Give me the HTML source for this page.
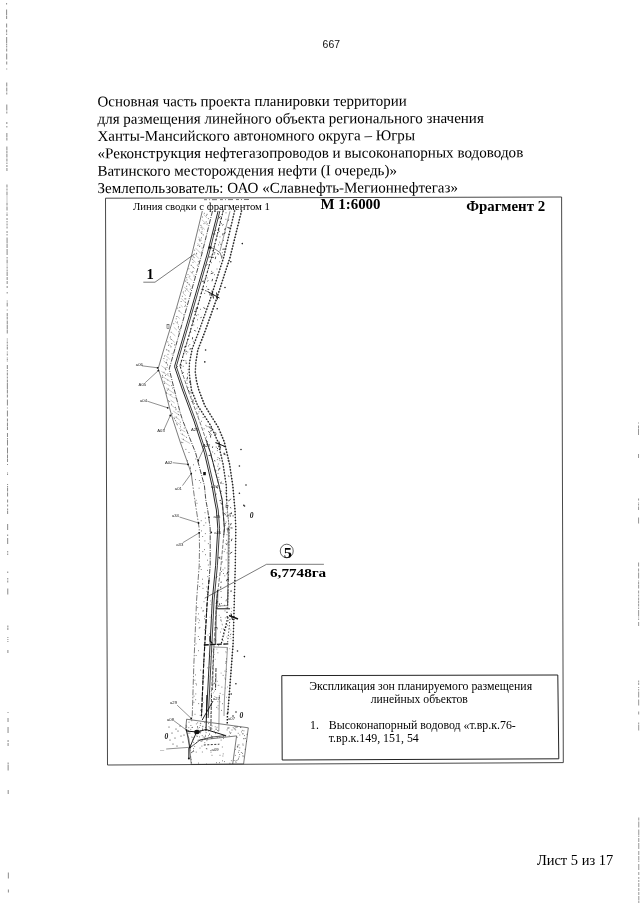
<!DOCTYPE html>
<html lang="ru"><head><meta charset="utf-8"><title>Лист 5 из 17</title>
<style>
html,body{margin:0;padding:0;background:#fff;}
body{width:640px;height:905px;overflow:hidden;position:relative;font-family:"Liberation Serif",serif;}
svg{position:absolute;left:0;top:0;display:block;filter:grayscale(1);}
text{white-space:pre;}
</style></head><body>
<svg width="640" height="905" viewBox="0 0 640 905">
<g font-family='"Liberation Sans", sans-serif'>
<text x="322.6" y="47.9" font-size="10.6" textLength="17.4" lengthAdjust="spacingAndGlyphs" fill="#111" text-anchor="start">667</text>
</g>
<g font-family='"Liberation Serif", serif'>
<text x="97.5" y="106.4" font-size="15" textLength="309.3" lengthAdjust="spacingAndGlyphs" fill="#000" text-anchor="start" transform="rotate(-0.12 97.5 106.4)">Основная часть проекта планировки территории</text>
<text x="97.5" y="123.8" font-size="15" textLength="386.3" lengthAdjust="spacingAndGlyphs" fill="#000" text-anchor="start" transform="rotate(-0.12 97.5 123.8)">для размещения линейного объекта регионального значения</text>
<text x="97.5" y="140.9" font-size="15" textLength="317.5" lengthAdjust="spacingAndGlyphs" fill="#000" text-anchor="start" transform="rotate(-0.12 97.5 140.9)">Ханты-Мансийского автономного округа – Югры</text>
<text x="97.5" y="158.2" font-size="15" textLength="425.8" lengthAdjust="spacingAndGlyphs" fill="#000" text-anchor="start" transform="rotate(-0.12 97.5 158.2)">«Реконструкция нефтегазопроводов и высоконапорных водоводов</text>
<text x="97.5" y="175.8" font-size="15" textLength="299.5" lengthAdjust="spacingAndGlyphs" fill="#000" text-anchor="start" transform="rotate(-0.12 97.5 175.8)">Ватинского месторождения нефти (I очередь)»</text>
<text x="97.5" y="193.1" font-size="15" textLength="360.5" lengthAdjust="spacingAndGlyphs" fill="#000" text-anchor="start" transform="rotate(-0.12 97.5 193.1)">Землепользователь: ОАО «Славнефть-Мегионнефтегаз»</text>
<polygon points="105.5,198.2 561.6,197.0 563.3,762.6 107.5,765.0" fill="none" stroke="#333" stroke-width="0.9"/>
<g><path d="M204.3,213.3h.01M207.1,214.3h.01M206.4,215.3h.01M202.5,217.0h.01M208.3,218.6h.01M206.2,221.9h.01M204.0,223.6h.01M207.3,223.8h.01M200.9,225.4h.01M201.1,227.6h.01M202.2,229.1h.01M199.3,230.0h.01M201.9,231.8h.01M201.7,233.4h.01M203.3,234.9h.01M201.5,237.8h.01M199.2,239.6h.01M199.9,240.7h.01M200.0,240.9h.01M201.8,243.5h.01M197.9,245.4h.01M199.6,246.5h.01M202.1,248.1h.01M194.7,250.2h.01M201.7,252.0h.01M196.5,253.3h.01M196.7,253.9h.01M193.1,256.7h.01M194.1,257.6h.01M192.3,259.3h.01M198.3,261.6h.01M193.0,262.4h.01M197.3,265.1h.01M191.2,265.3h.01M193.3,267.6h.01M188.9,268.8h.01M193.0,271.5h.01M192.1,272.4h.01M188.0,274.6h.01M194.1,276.0h.01M189.8,276.2h.01M186.7,277.7h.01M187.0,279.9h.01M185.3,281.1h.01M187.7,282.5h.01M189.3,284.3h.01M186.7,286.3h.01M190.3,289.2h.01M186.9,289.0h.01M185.3,290.9h.01M183.3,292.0h.01M182.3,296.3h.01M184.9,298.8h.01M185.8,298.9h.01M181.1,301.5h.01M185.6,302.3h.01M185.4,305.2h.01M184.9,306.4h.01M179.8,307.4h.01M177.7,308.1h.01M179.1,311.0h.01M183.7,314.8h.01M176.8,316.5h.01M176.2,318.8h.01M177.6,322.1h.01M173.8,323.7h.01M178.4,326.6h.01M178.3,327.9h.01M179.4,329.6h.01M178.7,331.8h.01M171.2,332.3h.01M170.4,336.9h.01M171.2,339.5h.01M167.8,341.9h.01M171.8,343.5h.01M174.4,344.9h.01M168.4,345.4h.01M170.9,346.9h.01M166.4,349.8h.01M168.8,350.8h.01M172.1,353.8h.01M168.0,354.4h.01M164.5,356.0h.01M163.9,358.5h.01M167.0,359.9h.01M166.5,362.4h.01M166.1,362.9h.01M167.5,365.0h.01M167.0,367.4h.01M165.2,368.2h.01M165.5,369.7h.01M164.0,372.3h.01M167.9,373.9h.01M165.6,375.5h.01M162.5,375.4h.01M162.4,377.3h.01M167.8,380.0h.01M164.1,381.4h.01M164.5,383.4h.01M171.7,385.6h.01M172.4,388.1h.01M168.6,389.0h.01M167.3,390.2h.01M166.4,392.3h.01M166.8,393.5h.01M170.9,394.5h.01M175.1,397.8h.01M168.6,400.8h.01M169.7,401.6h.01M171.5,404.3h.01M175.6,407.4h.01M175.9,409.7h.01M178.1,411.7h.01M172.3,413.7h.01M178.5,414.5h.01M176.7,417.1h.01M174.0,417.9h.01M174.4,418.7h.01M175.5,420.6h.01M180.3,422.2h.01M176.4,423.9h.01M177.5,424.8h.01M180.5,426.8h.01M184.2,428.2h.01M180.7,430.6h.01M182.4,434.2h.01M186.4,437.4h.01M183.4,439.3h.01M181.4,442.3h.01M182.8,442.6h.01M185.9,449.4h.01M189.0,452.5h.01M195.8,459.0h.01M187.6,460.8h.01M193.6,464.8h.01M190.6,467.2h.01M190.6,468.6h.01M195.7,470.7h.01M195.6,479.6h.01M199.3,480.5h.01M200.7,482.6h.01M199.1,488.2h.01M196.1,500.3h.01M197.0,503.3h.01M205.0,512.7h.01M205.3,518.1h.01M201.2,520.7h.01M205.8,522.8h.01M203.9,525.4h.01M201.6,530.9h.01M205.3,533.6h.01M202.7,536.5h.01M204.9,540.9h.01M208.3,543.6h.01M204.5,549.6h.01M202.8,551.6h.01M205.5,554.7h.01M207.6,560.2h.01M208.3,565.0h.01M200.2,566.6h.01M201.2,569.5h.01M207.4,570.4h.01M207.8,576.6h.01M202.6,579.2h.01M202.7,583.8h.01M199.7,586.5h.01M206.9,586.9h.01M203.0,588.4h.01M206.9,591.4h.01M204.0,601.7h.01M197.8,607.5h.01M201.3,607.9h.01M203.6,610.8h.01M202.8,611.0h.01M198.4,613.9h.01M204.6,616.2h.01M204.5,618.8h.01M198.0,618.8h.01M199.6,620.2h.01M198.8,622.7h.01M199.9,627.4h.01M199.2,628.1h.01M204.4,629.9h.01M198.3,636.5h.01M199.6,639.5h.01M196.0,643.8h.01M198.6,650.7h.01M196.1,655.5h.01M200.7,670.1h.01M195.5,674.9h.01M194.9,680.2h.01M196.0,683.6h.01M196.5,684.9h.01M195.8,693.9h.01M194.0,696.2h.01M195.7,699.7h.01M193.9,702.3h.01M198.7,703.6h.01M200.5,710.2h.01M195.0,714.3h.01M200.2,715.4h.01M226.0,212.8h.01M225.9,219.3h.01M221.5,223.6h.01M229.1,227.6h.01M220.0,236.9h.01M223.5,240.4h.01M219.7,242.2h.01M218.6,244.9h.01M224.3,249.2h.01M222.3,252.7h.01M214.1,254.3h.01M222.2,256.1h.01M221.4,258.1h.01M219.8,261.8h.01M211.4,262.7h.01M217.0,269.0h.01M211.7,271.4h.01M214.6,274.7h.01M207.1,277.9h.01M206.6,286.6h.01M204.7,293.4h.01M210.0,295.2h.01M200.5,309.3h.01M198.1,314.7h.01M196.4,315.6h.01M197.6,319.8h.01M193.8,324.9h.01M197.4,327.9h.01M194.6,330.5h.01M193.3,341.4h.01M189.8,344.6h.01M188.4,345.9h.01M191.0,348.9h.01M187.8,352.0h.01M186.3,353.9h.01M185.9,360.8h.01M183.2,366.3h.01M188.1,369.6h.01M187.6,373.9h.01M187.5,377.2h.01M187.2,378.8h.01M186.9,380.2h.01M187.1,383.4h.01M188.0,387.5h.01M190.0,391.8h.01M191.3,396.2h.01M193.0,399.6h.01M193.2,402.0h.01M194.3,403.5h.01M196.9,408.2h.01M199.0,411.8h.01M197.9,413.6h.01M198.1,416.2h.01M203.1,417.5h.01M201.6,421.3h.01M205.9,425.4h.01M207.0,426.6h.01M204.1,428.8h.01M211.3,430.7h.01M211.3,434.7h.01M206.5,437.0h.01M207.5,441.6h.01M216.1,443.2h.01M216.2,447.0h.01M217.3,450.6h.01M212.7,452.0h.01M214.7,453.7h.01M218.0,457.6h.01M217.3,459.6h.01M220.0,460.6h.01M218.3,464.0h.01M217.8,466.2h.01M220.0,468.2h.01M216.0,470.8h.01M218.0,473.4h.01M218.8,477.4h.01M219.0,479.7h.01M221.4,482.1h.01M223.0,483.6h.01M221.3,491.3h.01M225.3,492.9h.01M225.9,505.1h.01M226.0,512.9h.01M225.1,514.8h.01M226.7,516.1h.01M226.1,522.0h.01M225.6,523.5h.01M225.2,525.2h.01M227.9,528.5h.01M227.5,531.9h.01M227.0,534.7h.01M226.6,540.4h.01M228.0,542.2h.01M227.2,543.7h.01M225.2,549.3h.01M224.2,551.6h.01M227.1,552.9h.01M226.1,559.9h.01M222.6,561.9h.01M224.9,568.0h.01M223.0,569.8h.01M221.4,571.5h.01M223.4,573.5h.01M224.8,575.8h.01M221.2,581.9h.01M221.0,582.5h.01M221.0,591.5h.01M221.3,597.4h.01M226.4,599.9h.01M226.0,600.8h.01M221.3,603.5h.01M224.7,605.3h.01M226.2,607.9h.01M225.0,610.9h.01M220.8,617.4h.01M228.3,620.7h.01M227.6,625.2h.01M226.1,626.9h.01M217.4,628.8h.01M220.4,632.1h.01M223.0,640.7h.01M218.7,645.7h.01M227.0,649.0h.01M217.9,652.8h.01M226.4,658.9h.01M226.6,661.8h.01M225.0,671.1h.01M223.1,675.4h.01M216.1,677.8h.01M225.3,679.2h.01M214.5,683.1h.01M214.8,683.6h.01M221.9,687.1h.01M220.1,693.4h.01M222.5,703.7h.01M211.3,706.7h.01M221.6,710.4h.01" stroke="#444" stroke-width="0.85" stroke-linecap="round" fill="none"/>
<path d="M203.5,214.4L207.0,217.8M201.9,219.7L207.3,225.0M200.7,225.5L204.8,229.6M199.7,231.4L202.7,234.5M198.1,236.8L202.0,240.7M197.4,243.1L200.8,246.5M195.5,248.1L200.9,253.5M194.4,254.0L199.1,258.8M192.9,259.7L195.6,262.5M191.0,265.0L194.9,269.0M190.0,271.2L193.1,274.4M188.3,276.7L192.0,280.5M186.0,281.5L191.1,286.9M184.2,286.9L189.5,292.4M182.7,292.7L185.9,296.0M181.1,298.3L186.1,303.4M180.7,305.1L182.8,307.2M178.3,309.9L182.3,314.0M177.1,316.0L179.9,318.8M174.9,321.1L178.7,324.8M173.8,327.2L176.9,330.2M172.2,333.0L175.3,335.9M169.4,337.5L174.8,342.5M168.1,343.5L171.6,346.7M166.7,349.4L169.9,352.2M165.3,355.2L169.9,359.3M163.6,360.8L168.1,364.7M161.4,365.7L166.8,369.8M161.4,371.4L169.7,376.5M162.4,376.5L171.1,382.1M164.0,382.0L170.1,386.1M166.3,388.0L174.0,393.4M168.4,394.0L173.6,397.7M170.6,400.1L174.6,403.0M171.1,405.1L177.0,409.3M173.3,411.1L179.4,415.4M174.7,416.6L179.8,420.0M175.7,421.7L181.2,425.2M178.8,428.1L185.3,432.0M180.5,433.5L185.4,436.4M181.5,438.7L190.1,443.5" stroke="#777" stroke-width="0.4" fill="none"/>
<polyline points="202.3,211.0 192.0,253.8 176.6,307.5 163.6,350.0 158.2,368.5 165.0,390.0 169.5,407.8 173.0,420.0 180.5,443.0 188.0,463.8 191.3,473.6 192.1,480.0" fill="none" stroke="#222" stroke-width="0.6"/>
<polyline points="192.1,480.0 194.8,500.0 199.2,528.4 199.5,548.0 199.2,565.6 196.6,600.0 193.8,665.6 192.2,718.0" fill="none" stroke="#222" stroke-width="0.6" stroke-dasharray="6 1.5 1.5 1.5"/>
<polyline points="212.5,211.0 201.6,255.0 186.0,310.0 169.2,369.0 174.4,390.0 180.0,412.0 182.5,420.0 195.6,452.8 204.4,485.6 205.8,500.0 207.7,510.0 210.2,528.4 210.2,565.6 207.0,605.0 203.6,665.6 201.4,718.0" fill="none" stroke="#111" stroke-width="0.75" stroke-dasharray="5 1.2 1 1.2"/>
<polyline points="218.1,211.0 206.9,255.0 191.0,310.0 174.5,366.5 182.5,390.0 194.0,421.0 204.4,452.8 212.0,485.6 214.5,500.0 216.4,510.0 217.8,528.4 215.6,565.6 212.3,600.0 209.0,665.6 206.4,718.0" fill="none" stroke="#111" stroke-width="0.9"/>
<polyline points="219.9,211.0 208.7,255.0 192.8,310.0 176.3,366.5 184.3,390.0 195.8,421.0 206.2,452.8 213.8,485.6 216.3,500.0 218.2,510.0 219.6,528.4 217.4,565.6 214.1,600.0 210.8,665.6 208.2,718.0" fill="none" stroke="#111" stroke-width="0.8"/>
<polyline points="223.1,211.0 212.2,255.0 196.5,310.0 180.0,366.0 181.3,370.0" fill="none" stroke="#111" stroke-width="1.3" stroke-dasharray="0.1 3.6" stroke-linecap="round"/>
<polyline points="223.1,211.0 212.2,255.0 196.5,310.0 180.0,366.0 188.0,390.0 199.5,421.0 210.5,452.8 219.0,485.6 222.2,500.0 224.4,528.4 221.0,565.6 216.7,600.0 213.4,654.7 211.3,696.0" fill="none" stroke="#222" stroke-width="0.6" stroke-dasharray="4 1.5"/>
<polyline points="206.1,440.0 210.5,452.8 219.0,485.6 222.2,500.0 224.4,528.4 223.8,535.0" fill="none" stroke="#111" stroke-width="0.8"/>
<polyline points="209.0,580.0 207.0,605.0 203.6,665.6 201.5,716.0" fill="none" stroke="#111" stroke-width="1.1" stroke-dasharray="4 1.6"/>
<polyline points="234.6,211.0 223.6,257.5 210.0,300.0 199.3,330.0 192.2,348.8 189.5,362.5 189.2,372.0 190.0,380.0 191.5,390.0 197.7,405.6 204.5,416.0 210.6,425.3 218.0,441.9 223.0,463.8 226.3,485.6 226.6,500.0" fill="none" stroke="#111" stroke-width="1.5" stroke-dasharray="0.1 2.9" stroke-linecap="round"/>
<polyline points="226.6,500.0 227.4,510.0 229.2,528.4 228.8,565.6 227.7,608.0" fill="none" stroke="#222" stroke-width="1.1" stroke-dasharray="0.1 2.9" stroke-linecap="round"/>
<polyline points="241.5,211.0 230.0,257.5 216.2,300.0 205.5,330.0 197.8,350.0 195.8,362.5 195.3,372.0 196.3,380.0 198.8,390.0 204.8,405.6 211.2,416.0 218.4,427.5 224.3,441.9 229.5,463.8 232.8,485.6 235.0,510.0 235.8,528.4 235.3,565.6 234.2,605.0 233.1,643.8 229.8,687.5 227.7,713.8" fill="none" stroke="#111" stroke-width="1.6" stroke-dasharray="0.1 2.9" stroke-linecap="round"/>
<polyline points="234.6,211.0 223.6,257.5 210.0,300.0 199.3,330.0 192.2,348.8 189.5,362.5 189.2,372.0 190.0,380.0 191.5,390.0 197.7,405.6 204.5,416.0 210.6,425.3 218.0,441.9 223.0,463.8 226.3,485.6 226.6,500.0 227.4,510.0 229.2,528.4 228.8,565.6 227.7,608.0" fill="none" stroke="#555" stroke-width="0.35"/>
<polyline points="241.5,211.0 230.0,257.5 216.2,300.0 205.5,330.0 197.8,350.0 195.8,362.5 195.3,372.0 196.3,380.0 198.8,390.0 204.8,405.6 211.2,416.0 218.4,427.5 224.3,441.9 229.5,463.8 232.8,485.6 235.0,510.0 235.8,528.4 235.3,565.6 234.2,605.0 233.1,643.8 229.8,687.5 227.7,713.8" fill="none" stroke="#555" stroke-width="0.35"/>
<polyline points="230.0,211.2 220.0,251.0" fill="none" stroke="#333" stroke-width="0.5"/>
<polyline points="228.5,528.0 228.0,560.0 227.5,605.6" fill="none" stroke="#333" stroke-width="0.5"/>
<path d="M210.5,600.9h.01M212.0,602.6h.01M211.0,604.5h.01M220.1,606.3h.01M211.7,608.0h.01M231.2,608.2h.01M231.6,611.6h.01M211.6,613.3h.01M211.8,612.8h.01M216.6,615.6h.01M219.2,615.3h.01M210.0,617.2h.01M225.3,617.8h.01M220.9,619.5h.01M212.1,619.4h.01M222.4,624.9h.01M222.1,624.2h.01M226.0,627.4h.01M212.3,626.8h.01M221.8,628.8h.01M229.7,628.4h.01M225.7,630.8h.01M230.8,630.1h.01M209.7,633.6h.01M208.0,635.1h.01M224.0,635.0h.01M226.9,637.0h.01M230.0,636.4h.01M215.4,639.5h.01M230.9,638.7h.01M212.2,640.8h.01M216.0,640.8h.01M214.2,642.5h.01M224.4,643.9h.01M210.6,645.6h.01M210.4,644.3h.01M216.9,649.1h.01M229.8,648.7h.01M225.9,651.6h.01M212.2,651.1h.01M226.1,652.7h.01M214.1,654.5h.01M209.1,654.0h.01M210.5,656.6h.01M215.2,659.3h.01M213.4,659.9h.01M225.4,661.8h.01M225.4,663.3h.01M204.0,665.9h.01M210.2,664.2h.01M209.6,667.6h.01M207.5,667.8h.01M226.5,669.2h.01M226.4,671.6h.01M221.1,673.1h.01M225.8,675.1h.01M209.1,676.3h.01M204.7,676.9h.01M215.6,679.0h.01M225.0,678.0h.01M217.3,681.3h.01M213.5,683.9h.01M218.9,685.3h.01M218.2,685.4h.01M227.5,687.0h.01M225.2,688.1h.01M211.0,691.7h.01M214.5,691.1h.01M213.3,692.8h.01M223.0,694.6h.01M214.8,696.5h.01M226.5,697.3h.01M210.1,698.6h.01M217.8,701.6h.01M220.0,701.8h.01M203.3,702.6h.01M206.7,703.8h.01M218.1,705.6h.01M217.0,707.3h.01M216.5,707.4h.01M218.1,708.9h.01M206.1,710.1h.01M210.6,713.6h.01M207.8,714.6h.01" stroke="#777" stroke-width="0.8" stroke-linecap="round" fill="none"/>
<polyline points="204.0,199.7 252.0,199.5" fill="none" stroke="#333" stroke-width="0.7" stroke-dasharray="3 2 1 2 5 3"/>
<path d="M225.4,228.2l-0.8,1.8M225.7,232.6l-1.7,1.1M212.0,257.4l1.8,0.0M207.6,264.3l-1.3,0.9M215.3,234.0l-2.4,0.0M207.5,289.3l1.7,0.2M210.5,256.8l-1.8,0.3M227.3,227.3l2.5,1.0M217.5,253.0l0.9,1.7M216.2,230.1l-1.4,0.6M204.6,281.1l-2.6,0.3M212.6,278.9l-0.6,2.3M223.5,224.5l-1.3,0.8M209.7,293.4l0.5,1.7M215.3,252.8l-1.8,0.0M220.5,216.3l-1.8,2.2M215.7,256.7l-0.4,2.4M223.1,233.1l-0.4,2.2M218.1,229.5l1.2,2.4M220.4,243.8l0.8,1.1M229.1,219.6l-1.4,1.2M213.4,272.8l-2.6,0.9M224.5,249.0l-2.1,0.3M205.6,290.0l0.6,1.5M201.6,289.3l2.4,0.5M208.4,280.6l-1.1,0.6M190.4,331.0l0.4,1.4M198.1,308.3l-2.6,0.9M187.5,389.5l1.9,1.9M185.6,363.1l1.5,0.1M193.5,400.6l-2.0,0.8M186.9,351.1l-1.5,0.8M180.7,364.1l-0.9,0.8M189.0,382.2l2.1,0.2M187.5,377.3l-0.4,1.6M190.9,348.7l-1.4,0.4M194.2,311.4l1.9,0.2M201.4,316.9l-0.7,1.2M181.1,364.6l0.0,1.6M192.7,319.9l0.9,2.2M177.7,366.0l-1.6,2.0M190.5,392.9l1.9,0.0M203.4,307.6l2.0,1.2M195.0,330.3l0.7,1.1M185.6,346.7l-1.6,0.5M184.4,360.4l-1.3,0.2M183.6,372.1l-1.8,2.0M192.6,337.2l-0.2,2.1M216.1,432.9l-1.8,0.1M227.6,460.7l1.2,0.4M216.5,434.0l-1.4,1.3M216.2,493.7l-0.8,1.7M220.6,482.4l0.5,1.5M208.2,431.3l1.7,1.6M230.1,515.1l0.2,1.6M219.5,468.0l-1.1,2.5M210.5,435.3l0.1,2.3M231.3,523.1l-0.9,2.2M230.7,498.8l-1.3,1.9M224.3,452.7l0.8,2.0M233.7,515.9l-1.2,0.0M214.5,460.1l0.5,1.3M216.0,486.3l1.6,2.2M225.4,506.9l2.6,0.9M220.8,502.7l1.1,1.9M221.2,500.3l-1.7,0.3M223.2,453.7l2.0,1.1M216.9,447.8l1.2,1.4M227.1,528.5l0.4,2.1M211.1,456.6l0.6,1.5M223.6,446.5l2.5,0.3M230.5,527.9l2.0,0.1M211.1,430.3l-0.9,1.3M208.5,426.8l1.6,0.5M228.4,475.5l0.6,1.3M231.4,512.3l-0.1,1.3M212.7,446.4l-0.3,1.5M231.8,513.5l-2.5,0.6M209.7,427.9l2.6,0.7M230.1,507.4l1.1,0.7M228.3,514.9l-0.7,1.8M224.2,513.2l1.2,1.3M220.1,458.5l-1.2,0.4M210.4,433.4l-0.8,1.3M208.6,455.4l2.0,0.2M227.5,500.2l1.2,0.7M228.1,527.5l0.7,2.2M226.2,505.3l2.4,0.6M219.2,557.4l0.9,1.8M218.0,601.0l-1.2,1.6M232.2,552.0l-2.2,1.5M218.5,606.3l-2.0,1.7M232.0,591.0l-1.8,0.2M231.2,633.9l-1.0,0.7M227.7,572.0l-0.8,2.3M217.7,602.9l-2.0,0.4M217.4,627.6l-2.1,0.0M228.0,616.4l-1.7,0.6M225.6,543.7l1.7,1.1M220.6,620.6l1.1,0.5M226.7,579.4l2.3,0.2M220.3,557.1l-2.0,0.5M223.2,629.0l1.5,0.6M227.8,579.5l-1.8,1.6M219.3,603.3l0.4,1.8M220.8,586.4l-0.2,1.9M232.0,538.7l-0.7,2.4M227.9,612.3l-1.8,0.0M217.1,576.3l-1.1,1.9M233.4,595.5l1.3,0.9" stroke="#222" stroke-width="0.8" fill="none"/>
<polyline points="218.0,590.0 217.5,606.0 227.5,605.6 228.0,590.0" fill="none" stroke="#333" stroke-width="0.5"/>
<polyline points="216.2,608.8 230.0,608.8" fill="none" stroke="#111" stroke-width="1.0"/>
<polyline points="217.5,590.0 216.2,608.8 215.6,645.0" fill="none" stroke="#111" stroke-width="0.8"/>
<polyline points="229.0,615.5 238.0,619.0" fill="none" stroke="#111" stroke-width="1.4"/>
<polyline points="231.0,613.5 232.5,620.0" fill="none" stroke="#111" stroke-width="1.0"/>
<polyline points="228.0,617.0 221.2,643.8" fill="none" stroke="#111" stroke-width="1.2" stroke-dasharray="1.6 1.6"/>
<polyline points="230.0,618.8 227.5,643.8" fill="none" stroke="#222" stroke-width="0.9" stroke-dasharray="1.2 2"/>
<polyline points="203.8,645.0 228.8,643.8" fill="none" stroke="#111" stroke-width="1.3" stroke-dasharray="5 1.5"/>
<polyline points="210.0,636.0 210.0,641.0 212.5,643.5" fill="none" stroke="#111" stroke-width="1.2"/>
<polyline points="213.8,647.0 227.5,647.5 224.4,700.0 224.0,716.0" fill="none" stroke="#333" stroke-width="0.5"/>
<polyline points="213.8,647.5 212.5,690.0" fill="none" stroke="#222" stroke-width="0.7" stroke-dasharray="3 1"/>
<polyline points="216.0,668.0 215.5,690.0" fill="none" stroke="#222" stroke-width="0.9" stroke-dasharray="4 1.2"/>
<path d="M188.8,727.7h.01M230.3,733.5h.01M200.8,723.6h.01M236.0,727.2h.01M193.4,748.6h.01M211.9,728.8h.01M206.1,732.6h.01M190.8,745.8h.01M223.5,736.1h.01M246.4,741.3h.01M240.5,727.4h.01M243.1,756.6h.01M223.6,738.4h.01M237.7,746.4h.01M196.2,752.1h.01M202.2,739.5h.01M196.3,736.0h.01M229.9,763.3h.01M235.8,761.1h.01M222.3,747.0h.01M241.3,752.5h.01M243.9,730.8h.01M227.6,728.1h.01M202.7,726.8h.01M202.6,728.8h.01M186.2,725.3h.01M200.2,725.5h.01M228.8,728.2h.01M236.0,762.4h.01M239.8,735.0h.01M236.2,727.0h.01M216.5,762.7h.01M239.0,744.8h.01M202.2,740.8h.01M215.5,733.6h.01M224.5,761.6h.01M205.6,735.3h.01M191.7,752.6h.01M217.7,730.5h.01M236.9,760.5h.01M212.0,755.3h.01M210.8,750.5h.01M228.9,727.7h.01M191.8,720.7h.01M197.5,726.6h.01M211.0,752.2h.01M206.9,740.6h.01M197.5,736.3h.01M223.2,753.9h.01M215.2,726.8h.01M245.5,738.4h.01M223.3,735.8h.01M230.9,732.6h.01M242.4,753.4h.01M237.3,746.8h.01M214.2,731.1h.01M232.0,730.0h.01M233.2,727.7h.01M188.9,731.5h.01M190.5,750.1h.01M225.4,736.2h.01M234.2,728.8h.01M243.9,738.7h.01M191.2,759.3h.01M190.3,745.0h.01M229.4,732.0h.01M192.5,751.6h.01M242.3,730.4h.01M208.4,735.7h.01M209.8,728.0h.01M241.4,731.9h.01M220.0,755.3h.01M190.4,748.2h.01M212.0,738.3h.01M209.0,726.7h.01M188.8,733.2h.01M222.4,760.8h.01M192.0,727.5h.01M199.3,727.5h.01M215.9,729.2h.01M227.1,729.9h.01M195.0,733.8h.01M239.2,756.8h.01M202.3,752.0h.01M190.8,757.0h.01M238.2,733.3h.01M189.9,733.1h.01M191.8,737.1h.01M221.1,740.1h.01M190.9,725.5h.01M190.8,729.4h.01M192.9,737.7h.01M243.9,738.6h.01M209.7,734.2h.01M235.5,749.4h.01M206.9,748.9h.01M237.8,747.1h.01M234.1,760.5h.01M197.7,722.8h.01M244.5,735.6h.01M242.9,744.0h.01M245.1,749.3h.01M222.9,756.0h.01M218.3,731.1h.01M206.3,748.5h.01M238.6,758.3h.01M242.9,733.8h.01M193.0,739.6h.01M204.6,737.2h.01M219.4,762.7h.01M200.6,732.8h.01M237.2,737.3h.01M191.8,752.4h.01M197.6,727.3h.01M200.7,731.8h.01M217.0,727.3h.01M239.1,750.5h.01M234.9,726.6h.01M235.3,755.4h.01M216.3,729.2h.01M240.9,727.3h.01M243.1,745.2h.01M235.7,729.9h.01M201.9,746.1h.01M237.5,726.9h.01M211.3,735.8h.01M194.1,737.1h.01M206.6,764.1h.01M235.0,728.9h.01M198.0,728.9h.01M229.2,735.7h.01M186.2,727.4h.01M202.2,735.6h.01M231.3,760.7h.01M205.6,736.7h.01M210.2,730.0h.01M194.7,746.4h.01M205.0,738.5h.01M193.7,751.5h.01M199.5,732.4h.01M200.0,748.1h.01M212.4,737.1h.01M209.5,734.1h.01M202.9,726.3h.01M200.3,723.3h.01M212.0,725.9h.01M205.8,730.7h.01M211.3,738.1h.01M238.1,759.5h.01M193.7,742.3h.01M219.8,737.1h.01M247.0,734.3h.01M200.2,730.5h.01M196.4,742.6h.01M189.0,722.2h.01M188.4,730.7h.01M238.0,745.1h.01M193.6,750.6h.01M203.2,737.0h.01M201.1,741.5h.01M202.5,729.5h.01M208.4,730.9h.01M204.8,722.6h.01M238.4,752.3h.01M186.7,726.8h.01M204.8,742.7h.01M198.4,763.1h.01M191.5,762.7h.01M199.5,736.9h.01M225.8,735.3h.01M242.9,733.8h.01M196.3,723.9h.01M207.4,738.8h.01M217.2,737.6h.01M205.6,727.4h.01M239.8,747.9h.01M211.8,736.7h.01M239.7,754.5h.01M243.0,755.7h.01M208.4,723.6h.01M192.5,727.4h.01" stroke="#444" stroke-width="0.8" stroke-linecap="round" fill="none"/>
<polygon points="186.6,719.2 248.3,727.8 243.6,763.9 191.25,764.4 189.7,748 188.9,738.75 185.8,728.6" fill="none" stroke="#222" stroke-width="0.6"/>
<polyline points="197.5,740.3 236.6,735.9 232.7,764.0" fill="none" stroke="#222" stroke-width="0.6"/>
<ellipse cx="196.9" cy="732" rx="2.7" ry="2.2" fill="#111"/>
<polyline points="186.6,731.0 196.7,732.0 206.0,729.5 225.6,735.6" fill="none" stroke="#111" stroke-width="1.0"/>
<polyline points="196.7,732.0 192.5,741.0 189.7,748.0" fill="none" stroke="#111" stroke-width="0.9"/>
<polyline points="186.6,731.0 188.5,741.0 189.7,748.0" fill="none" stroke="#111" stroke-width="0.7"/>
<polyline points="189.7,748.0 200.0,740.0 212.0,737.0 225.6,735.6" fill="none" stroke="#111" stroke-width="0.7"/>
<polyline points="188.9,748.0 188.9,758.3" fill="none" stroke="#111" stroke-width="1.0"/>
<circle cx="188.9" cy="758.6" r="1" fill="#111"/>
<polyline points="213.0,701.0 202.2,720.0" fill="none" stroke="#111" stroke-width="0.9"/>
<polyline points="206.9,695.0 206.0,731.0" fill="none" stroke="#111" stroke-width="1.0"/>
<polyline points="211.5,695.0 210.8,731.0" fill="none" stroke="#111" stroke-width="0.8" stroke-dasharray="3 1"/>
<polyline points="219.4,695.0 218.8,731.0" fill="none" stroke="#333" stroke-width="0.5"/>
<polyline points="203.8,745.0 219.4,744.2" fill="none" stroke="#222" stroke-width="0.9" stroke-dasharray="2 1.5"/>
<polyline points="227.5,713.0 227.2,725.0" fill="none" stroke="#111" stroke-width="1.4" stroke-dasharray="1.5 1.5"/>
<path d="M169.0,727.0h.01M172.0,733.0h.01M175.0,738.0h.01M178.0,731.0h.01M181.0,736.0h.01M173.0,744.0h.01M177.0,746.0h.01M183.0,742.0h.01M170.0,740.0h.01M180.0,726.0h.01M184.0,735.0h.01M176.0,729.0h.01" stroke="#222" stroke-width="1.1" stroke-linecap="round" fill="none"/>
<path d="M242.3,243.6h.01M230.8,261.8h.01M225.0,287.5h.01M217.2,308.8h.01M205.6,350.0h.01M204.8,361.9h.01M241.0,449.5h.01M239.4,466.0h.01M246.0,485.0h.01M239.4,493.3h.01M243.8,505.3h.01M244.5,506.0h.01M237.5,651.0h.01M244.4,656.6h.01M235.9,683.8h.01M231.2,694.0h.01M233.0,716.0h.01M236.0,712.0h.01" stroke="#222" stroke-width="1.6" stroke-linecap="round" fill="none"/>
<polyline points="207.5,291.5 219.5,298.0" fill="none" stroke="#111" stroke-width="1.0"/>
<polyline points="212.0,290.5 213.5,298.5" fill="none" stroke="#111" stroke-width="0.9"/>
<polyline points="216.5,292.5 217.5,299.5" fill="none" stroke="#111" stroke-width="0.9"/>
<ellipse cx="210" cy="247.5" rx="1.6" ry="1.3" fill="#111"/>
<polyline points="210.0,247.5 215.0,249.0 220.0,252.5 222.0,258.0" fill="none" stroke="#222" stroke-width="0.6"/>
<polyline points="215.5,442.5 225.0,446.5" fill="none" stroke="#111" stroke-width="1.0"/>
<polyline points="219.0,441.5 220.5,448.5" fill="none" stroke="#111" stroke-width="0.9"/>
<rect x="203.2" y="472" width="2.6" height="3.2" fill="#111"/>
<g font-family='"Liberation Serif", serif' font-style="italic" font-weight="bold" font-size="7.5" fill="#111">
<text x="249.8" y="517.8">0</text>
<text x="239.4" y="717.8">0</text>
<text x="164.4" y="738.6">0</text>
</g>
<g font-family='"Liberation Sans", sans-serif' font-size="4.2" fill="#222">
<text x="135.8" y="366.3">a06</text>
<text x="138.6" y="386">A05</text>
<text x="140" y="401.6">a04</text>
<text x="157.3" y="432.3">A03</text>
<text x="165" y="464.2">A02</text>
<text x="174.8" y="489.5">a01</text>
<text x="171.9" y="517.3">a34</text>
<text x="176.25" y="545.5">a33</text>
<text x="170" y="704.2">a29</text>
<text x="167" y="720.6">a08</text>
<text x="160" y="750.5">—</text>
<text x="191" y="430.5">A21</text>
<text x="203" y="446.5">A22</text>
<text x="211" y="488.2">a24</text>
<text x="213.4" y="518">a35</text>
<text x="214.2" y="534">a36</text>
<text x="228" y="720">a07</text>
<text x="211.6" y="750.6">a09</text>
<text x="213" y="700">a27</text>
</g>
<polyline points="141.9,365.8 157.6,367.8" fill="none" stroke="#222" stroke-width="0.5"/>
<circle cx="157.6" cy="367.8" r="0.9" fill="#111"/>
<polyline points="145.2,382.7 158.3,370.6" fill="none" stroke="#222" stroke-width="0.5"/>
<circle cx="158.3" cy="370.6" r="0.9" fill="#111"/>
<polyline points="147.3,401.2 167.7,407.8" fill="none" stroke="#222" stroke-width="0.5"/>
<circle cx="167.7" cy="407.8" r="0.9" fill="#111"/>
<polyline points="163.8,430.0 170.3,415.5" fill="none" stroke="#222" stroke-width="0.5"/>
<circle cx="170.3" cy="415.5" r="0.9" fill="#111"/>
<polyline points="172.7,462.7 188.0,464.4" fill="none" stroke="#222" stroke-width="0.5"/>
<circle cx="188" cy="464.4" r="0.9" fill="#111"/>
<polyline points="182.5,485.6 191.2,473.6" fill="none" stroke="#222" stroke-width="0.5"/>
<circle cx="191.25" cy="473.6" r="0.9" fill="#111"/>
<polyline points="179.5,517.0 198.6,523.0" fill="none" stroke="#222" stroke-width="0.5"/>
<circle cx="198.6" cy="523" r="0.9" fill="#111"/>
<polyline points="182.8,542.7 199.2,532.8" fill="none" stroke="#222" stroke-width="0.5"/>
<circle cx="199.2" cy="532.8" r="0.9" fill="#111"/>
<polyline points="177.2,705.2 191.2,718.4" fill="none" stroke="#222" stroke-width="0.5"/>
<circle cx="191.25" cy="718.4" r="0.9" fill="#111"/>
<polyline points="174.0,720.8 186.6,730.2" fill="none" stroke="#222" stroke-width="0.5"/>
<circle cx="186.6" cy="730.2" r="0.9" fill="#111"/>
<polyline points="166.2,749.0 189.7,747.3" fill="none" stroke="#222" stroke-width="0.5"/>
<circle cx="189.7" cy="747.3" r="0.9" fill="#111"/>
<polyline points="204.4,447.3 198.2,460.5" fill="none" stroke="#222" stroke-width="0.5"/>
<circle cx="198.25" cy="460.5" r="0.9" fill="#111"/>
<circle cx="209" cy="517.5" r="0.9" fill="#111"/>
<circle cx="211.25" cy="532.4" r="0.9" fill="#111"/>
<rect x="167" y="324.5" width="2" height="4" fill="none" stroke="#222" stroke-width="0.5"/></g>
<polygon points="281.8,675.6 557.8,675.0 558.8,758.8 282.2,760.0" fill="#fff" stroke="#222" stroke-width="1"/>
<text x="133" y="209.5" font-size="10.3" textLength="137" lengthAdjust="spacingAndGlyphs" fill="#000" text-anchor="start">Линия сводки с фрагментом 1</text>
<text x="320.5" y="209.3" font-size="14.9" font-weight="bold" textLength="60" lengthAdjust="spacingAndGlyphs" fill="#000" text-anchor="start">М 1:6000</text>
<text x="466.3" y="210.8" font-size="14.9" font-weight="bold" textLength="78.8" lengthAdjust="spacingAndGlyphs" fill="#000" text-anchor="start">Фрагмент 2</text>
<text x="309.3" y="689.5" font-size="11.8" textLength="222.8" lengthAdjust="spacingAndGlyphs" fill="#000" text-anchor="start">Экспликация зон планируемого размещения</text>
<text x="370.8" y="702.5" font-size="11.8" textLength="97" lengthAdjust="spacingAndGlyphs" fill="#000" text-anchor="start">линейных объектов</text>
<text x="310" y="728.8" font-size="11.8" fill="#000" text-anchor="start">1.</text>
<text x="328.8" y="728.8" font-size="11.8" textLength="187" lengthAdjust="spacingAndGlyphs" fill="#000" text-anchor="start">Высоконапорный водовод «т.вр.к.76-</text>
<text x="328.8" y="741.8" font-size="11.8" textLength="90" lengthAdjust="spacingAndGlyphs" fill="#000" text-anchor="start">т.вр.к.149, 151, 54</text>
<text x="536.9" y="864.7" font-size="14.8" textLength="76.3" lengthAdjust="spacingAndGlyphs" fill="#000" text-anchor="start">Лист 5 из 17</text>
<text x="146.6" y="278.8" font-size="14.6" font-weight="bold" fill="#000" text-anchor="start">1</text>
<text x="283.7" y="558.0" font-size="14" font-weight="bold" textLength="8.2" lengthAdjust="spacingAndGlyphs" fill="#000" text-anchor="start">5</text>
<text x="270" y="577.3" font-size="13.2" font-weight="bold" textLength="56.2" lengthAdjust="spacingAndGlyphs" fill="#000" text-anchor="start">6,7748га</text>
</g>
<ellipse cx="286.75" cy="551.0" rx="6.5" ry="6.8" fill="none" stroke="#222" stroke-width="0.7"/>
<polyline points="143.3,282.2 155.0,282.2 194.8,253.8" fill="none" stroke="#222" stroke-width="0.6"/>
<polyline points="323.9,564.3 266.5,564.3 204.7,598.2" fill="none" stroke="#222" stroke-width="0.6"/>
<path d="M6.60,3.0L6.60,4.5M6.61,9.5L6.63,15.5M6.63,16.0L6.63,19.0M6.64,23.5L6.65,27.5M6.65,29.5L6.66,32.5M6.66,33.5L6.66,35.0M6.67,37.0L6.68,43.0M6.68,43.5L6.68,45.0M6.69,45.5L6.69,47.5M6.69,48.5L6.70,51.5M6.70,53.5L6.71,59.5M6.72,61.5L6.72,64.5M6.73,68.5L6.73,69.5M6.76,82.5L6.77,86.5M6.77,87.5L6.78,91.5M6.78,92.5L6.78,94.5M6.80,104.5L6.82,110.5M6.82,111.5L6.82,113.5M6.84,122.0L6.84,124.0M6.85,126.0L6.85,127.5M6.86,133.0L6.87,137.0M6.87,137.5L6.88,140.5M6.89,146.5L6.90,150.5M6.90,151.0L6.90,153.0M6.90,153.5L6.91,157.5M6.91,158.5L6.92,161.5M6.92,162.5L6.92,164.0M6.93,165.0L6.93,167.0M6.93,168.0L6.94,171.0M6.96,184.5L6.97,187.5M6.97,188.5L6.98,190.5M6.98,191.5L6.99,195.5M6.99,196.5L6.99,197.5M6.99,198.5L6.99,199.5M7.00,200.5L7.00,201.5M7.00,202.5L7.01,205.5M7.01,206.5L7.02,210.5M7.02,212.5L7.02,213.5M7.02,214.0L7.03,216.0M7.03,218.0L7.04,220.0M7.04,221.0L7.04,222.5M7.04,223.5L7.05,225.5M7.05,226.5L7.05,228.5M7.06,231.0L7.06,233.0M7.06,234.0L7.07,235.5M7.07,237.5L7.08,243.5M7.08,244.0L7.09,248.0M7.09,249.0L7.11,255.0M7.11,257.0L7.11,258.5M7.11,259.5L7.12,263.5M7.12,264.5L7.13,265.5M7.13,266.5L7.13,268.5M7.13,269.5L7.14,271.5M7.14,272.0L7.15,276.0M7.15,277.0L7.16,280.0M7.16,281.0L7.16,284.0M7.17,286.0L7.17,288.0M7.18,292.0L7.18,293.5M7.20,300.5L7.20,301.5M7.20,302.5L7.21,306.5M7.22,309.5L7.22,310.5M7.22,313.0L7.23,316.0M7.23,316.5L7.24,319.5M7.24,320.5L7.25,324.5M7.25,325.0L7.25,329.0M7.26,329.5L7.26,333.5M7.27,338.5L7.28,339.5M7.28,340.5L7.28,341.5M7.28,342.0L7.28,343.5M7.29,344.5L7.29,346.0M7.29,346.5L7.30,349.5M7.30,351.5L7.30,352.5M7.30,353.5L7.31,355.5M7.31,357.5L7.31,358.5M7.31,359.0L7.32,360.0M7.32,360.5L7.32,361.5M7.33,365.0L7.33,369.0M7.34,370.0L7.34,371.5M7.34,372.5L7.35,375.5M7.35,376.5L7.35,378.5M7.36,379.5L7.36,382.5M7.36,383.0L7.37,389.0M7.38,389.5L7.38,393.5M7.39,394.5L7.39,397.5M7.40,399.5L7.41,405.5M7.41,407.5L7.41,408.5M7.42,410.5L7.43,416.5M7.43,418.5L7.44,421.5M7.44,422.5L7.45,426.5M7.45,427.0L7.46,430.0M7.46,433.0L7.47,437.0M7.47,438.0L7.47,439.0M7.48,439.5L7.49,445.5M7.49,447.5L7.50,453.5M7.51,454.5L7.51,458.5M7.52,459.0L7.52,462.0M7.53,464.0L7.53,465.0M7.54,472.5L7.54,473.5M7.55,474.0L7.55,475.0M7.57,484.0L7.57,485.0M7.57,486.0L7.57,487.0M7.57,487.5L7.58,491.5M7.58,492.5L7.59,496.5M7.60,499.5L7.60,502.5M7.61,504.5L7.61,506.5M7.61,508.5L7.62,510.5M7.62,511.0L7.63,514.0M7.65,524.0L7.66,530.0M7.67,534.5L7.67,536.0M7.67,538.0L7.69,544.0M7.70,551.0L7.70,552.5M7.70,553.5L7.71,555.0M7.74,571.5L7.74,573.0M7.75,578.0L7.76,579.5M7.76,580.5L7.76,582.5M7.77,588.5L7.79,594.5M7.85,625.5L7.85,627.5M7.85,628.0L7.86,630.0M7.87,637.0L7.87,638.0M7.88,639.0L7.88,640.0M7.88,641.0L7.88,642.0M7.90,650.0L7.90,653.0M8.02,712.0L8.02,713.0M8.03,718.0L8.04,722.0M8.05,727.0L8.06,733.0M8.08,740.0L8.08,742.0M8.08,743.0L8.09,746.0M8.12,762.5L8.13,764.0M8.13,764.5L8.14,770.5M8.18,790.0L8.19,794.0M8.34,872.5L8.36,878.5M8.38,889.5L8.38,892.5" stroke="#8a8a8a" stroke-width="1.0" fill="none"/>
<path d="M638.50,422.5L638.51,423.5M638.51,425.5L638.51,428.5M638.51,429.0L638.51,435.0M638.52,454.0L638.53,458.0M638.55,498.5L638.55,500.5M638.55,502.5L638.55,503.5M638.55,504.0L638.56,505.0M638.56,505.5L638.56,506.5M638.56,507.0L638.56,510.0M638.56,517.5L638.57,523.5M638.59,562.5L638.59,566.5M638.59,568.5L638.60,571.5M638.60,572.5L638.60,578.5M638.60,580.5L638.60,581.5M638.60,582.0L638.60,584.0M638.60,584.5L638.61,588.5M638.61,590.5L638.61,593.5M638.61,594.5L638.61,596.5M638.61,597.5L638.61,600.5M638.61,601.0L638.62,603.0M638.62,603.5L638.62,606.5M638.62,607.5L638.62,609.0M638.62,610.0L638.62,616.0M638.62,616.5L638.62,617.5M638.63,618.5L638.63,620.0M638.63,622.0L638.63,626.0M638.66,680.5L638.66,682.5M638.66,683.0L638.67,685.0M638.67,687.0L638.67,688.0M638.67,689.0L638.67,690.5M638.67,691.5L638.67,697.5M638.67,699.5L638.68,705.5M638.68,711.5L638.68,714.5M638.69,722.5L638.69,724.0M638.69,724.5L638.69,730.5M638.75,817.5L638.75,820.5M638.75,821.5L638.75,827.5M638.75,829.5L638.76,835.5M638.76,836.0L638.76,837.0M638.76,838.0L638.76,842.0M638.76,843.0L638.77,849.0M638.77,851.0L638.77,855.0M638.77,856.0L638.77,860.0M638.77,860.5L638.77,862.0M638.78,864.0L638.78,870.0M638.78,872.0L638.78,875.0M638.78,877.0L638.79,879.0M638.79,880.0L638.79,882.0M638.79,883.0L638.79,887.0M638.79,888.0L638.79,891.0M638.79,892.0L638.80,895.0M638.80,896.0L638.80,900.0M638.80,900.5L638.80,903.0" stroke="#8c8c8c" stroke-width="0.9" fill="none"/>
</svg>
</body></html>
